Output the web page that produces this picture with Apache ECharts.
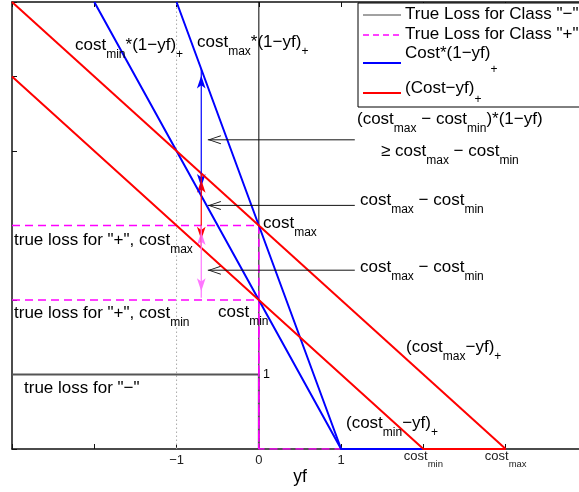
<!DOCTYPE html>
<html><head><meta charset="utf-8">
<script src="https://cdn.jsdelivr.net/npm/echarts@6/dist/echarts.min.js"></script>
<style>html,body{margin:0;padding:0;background:#fff;overflow:hidden}#c{width:600px;height:492px}</style>
</head><body><div id="c"></div>
<script>
// ---- data ----
const xTicks = [-1, 0, 1, 2, 3];
const xTickLabels = ['−1', '0', '1', 'cost_{min}', 'cost_{max}'];
const trueLossNeg = [[-3, 1], [0, 1], [0, 0], [3, 0]];
const trueLossPosMax = [[-3, 3], [0, 3], [0, 0], [3, 0]];
const trueLossPosMin = [[-3, 2], [0, 2], [0, 0]];
const hingeCostMax = [[-1, 6], [1, 0], [3, 0]];
const hingeCostMin = [[-2, 6], [1, 0], [3, 0]];
const shiftCostMax = [[-3, 6], [3, 0]];
const shiftCostMin = [[-3, 5], [2, 0], [3, 0]];
const zeroLine = [[0, 0], [0, 6]];
const guideLine = [[-1, 0], [-1, 6]];
const arrowX = -0.7;
const blueArrowY = [3.43, 5.1];   // [bottom tip, top tip]
const redArrowY = [2.72, 3.7];
const pinkArrowY = [2.03, 3.0];
const pointerY = [4.15, 3.27, 2.4];
const pointerFromX = 1.166;
const pointerToX = -0.62;
const legendLabels = ['True Loss for Class "−"', 'True Loss for Class "+"', 'Cost*(1−yf)_{+}', '(Cost−yf)_{+}'];

// ---- helpers ----
const FF = '"Liberation Sans", Arial, Helvetica, sans-serif';
function rich(str, m, s) {
  return str.split(/(_\{[^}]*\})/).filter(t => t).map(t =>
    t.startsWith('_{') ? '{' + s + '|' + t.slice(2, -1) + '}' : '{' + m + '|' + t + '}').join('');
}
const annRich = {
  m: {fontSize: 17, fontFamily: FF, color: '#000', verticalAlign: 'top'},
  s: {fontSize: 12, fontFamily: FF, color: '#000', verticalAlign: 'top', padding: [12, 0, 0, 0]}
};
const annotations = [
  {t: 'cost_{min}*(1−yf)_{+}', x: 75, y: 45},
  {t: 'cost_{max}*(1−yf)_{+}', x: 197, y: 42},
  {t: '(cost_{max} − cost_{min})*(1−yf)', x: 357, y: 119},
  {t: '≥ cost_{max} − cost_{min}', x: 381, y: 151},
  {t: 'cost_{max} − cost_{min}', x: 360, y: 200},
  {t: 'cost_{max} − cost_{min}', x: 360, y: 267},
  {t: 'cost_{max}', x: 263, y: 223},
  {t: 'true loss for "+", cost_{max}', x: 14, y: 240},
  {t: 'true loss for "+", cost_{min}', x: 14, y: 313},
  {t: 'cost_{min}', x: 218, y: 312},
  {t: 'true loss for "−"', x: 24, y: 388},
  {t: '(cost_{max}−yf)_{+}', x: 406, y: 347},
  {t: '(cost_{min}−yf)_{+}', x: 346, y: 423}
];
const graphics = [];
annotations.forEach(a => graphics.push({
  type: 'text', x: a.x, y: a.y - 8.5, silent: true, z: 50,
  style: {text: rich(a.t, 'm', 's'), rich: annRich, verticalAlign: 'top', align: 'left'}
}));
graphics.push({type: 'text', x: 263, y: 375 - 6.5, silent: true, z: 50,
  style: {text: '1', font: '12.5px ' + FF, fill: '#000', verticalAlign: 'top', align: 'left'}});
graphics.push({type: 'text', x: 300, y: 477, silent: true, z: 50,
  style: {text: 'yf', font: '17.5px ' + FF, fill: '#000', verticalAlign: 'middle', align: 'center'}});
// legend
graphics.push({type: 'rect', z: 60, silent: true, shape: {x: 358, y: 3, width: 260, height: 104},
  style: {fill: '#fff', stroke: '#000', lineWidth: 1}});
const legRows = [
  {ly: 15, ty: 14, color: '#444', dash: null, w: 1, sub: 14},
  {ly: 35, ty: 34, color: '#ff00ff', dash: [6, 4], w: 1.5, sub: 14},
  {ly: 63, ty: 53, color: '#0000ff', dash: null, w: 2, sub: 19},
  {ly: 93, ty: 88, color: '#ff0000', dash: null, w: 2, sub: 14}
];
legRows.forEach((r, i) => {
  const legRich = {
    m: {fontSize: 17, fontFamily: FF, color: '#000', verticalAlign: 'top'},
    s: {fontSize: 12, fontFamily: FF, color: '#000', verticalAlign: 'top', padding: [r.sub, 0, 0, 0]}
  };
  graphics.push({type: 'line', z: 61, silent: true, shape: {x1: 363, y1: r.ly, x2: 401, y2: r.ly},
    style: {stroke: r.color, lineWidth: r.w, lineDash: r.dash}});
  graphics.push({type: 'text', z: 61, silent: true, x: 405, y: r.ty - 8.5,
    style: {text: rich(legendLabels[i], 'm', 's'), rich: legRich, verticalAlign: 'top', align: 'left'}});
});

function lineSeries(data, color, width, type, z) {
  return {type: 'line', data: data, showSymbol: false, symbol: 'none', silent: true, z: z || 2,
    lineStyle: {color: color, width: width, type: type || 'solid'}, itemStyle: {color: color}, animation: false};
}
const chevron = 'path://M5,0 L10,14 L8.9,14 L5,2.4 L1.1,14 L0,14 Z';
// double-headed vertical arrow: shaft is a line series, heads are markPoints (tip on the value)
function vArrow(y, color, z) {
  const s = lineSeries([[arrowX, y[0]], [arrowX, y[1]]], color, 1.2, 'solid', z);
  const h = 13;
  s.markPoint = {silent: true, animation: false, label: {show: false}, itemStyle: {color: color},
    data: [
      {coord: [arrowX, y[1]], symbol: 'arrow', symbolSize: [6.5, h], symbolRotate: 0, symbolOffset: [0, h / 2]},
      {coord: [arrowX, y[0]], symbol: 'arrow', symbolSize: [6.5, h], symbolRotate: 180, symbolOffset: [0, -h / 2]}
    ]};
  return s;
}
function pointer(y) {
  const s = lineSeries([[pointerFromX, y], [pointerToX, y]], '#111', 1, 'solid', 10);
  s.markPoint = {silent: true, animation: false, label: {show: false}, itemStyle: {color: '#111'},
    data: [{coord: [pointerToX, y], symbol: chevron, symbolSize: [9, 13], symbolRotate: 90,
            symbolKeepAspect: false, symbolOffset: [6.5, 0]}]};
  return s;
}
const series = [
  lineSeries(guideLine, '#aaaaaa', 1, [1.5, 2.5], 1),
  lineSeries(zeroLine, '#000', 1, 'solid', 2),
  lineSeries(trueLossNeg, '#555', 2, 'solid', 3),
  lineSeries(trueLossPosMax, '#ff00ff', 1.5, [8, 5], 4),
  lineSeries(trueLossPosMin, '#ff00ff', 1.5, [8, 5], 4),
  lineSeries(hingeCostMax, '#0000ff', 2, 'solid', 5),
  lineSeries(hingeCostMin, '#0000ff', 2, 'solid', 5),
  lineSeries(shiftCostMax, '#ff0000', 2, 'solid', 6),
  lineSeries(shiftCostMin, '#ff0000', 2, 'solid', 6),
  vArrow(blueArrowY, '#0000ff', 7),
  vArrow(redArrowY, '#ff0000', 8),
  vArrow(pinkArrowY, '#ff77ff', 9)
].concat(pointerY.map(pointer));

const chart = echarts.init(document.getElementById('c'), null, {renderer: 'canvas'});
chart.setOption({
  animation: false,
  backgroundColor: '#fff',
  grid: {left: 12, right: 12, top: 2, bottom: 43, containLabel: false},
  xAxis: [{
    type: 'value', min: -3, max: 4, interval: 1, position: 'bottom',
    axisLine: {show: true, onZero: false, lineStyle: {color: '#111', width: 1.5}},
    axisTick: {show: true, inside: true, length: 5, lineStyle: {color: '#111', width: 1}},
    splitLine: {show: false},
    axisLabel: {
      margin: 1, color: '#222',
      formatter: v => { const i = xTicks.indexOf(v); if (i < 0) return ''; const s = xTickLabels[i];
        return s.indexOf('_{') >= 0 ? rich(s, 'c', 's') : '{p|' + s + '}'; },
      rich: {
        p: {fontSize: 13, fontFamily: FF, color: '#222', verticalAlign: 'top', padding: [4, 0, 0, 0]},
        c: {fontSize: 13, fontFamily: FF, color: '#222', verticalAlign: 'top'},
        s: {fontSize: 9.5, fontFamily: FF, color: '#222', verticalAlign: 'top', padding: [9, 0, 0, 0]}
      }
    }
  }, {
    type: 'value', min: -3, max: 4, interval: 1, position: 'top',
    axisLine: {show: true, onZero: false, lineStyle: {color: '#111', width: 1.5}},
    axisTick: {show: true, inside: true, length: 5, lineStyle: {color: '#111', width: 1}},
    splitLine: {show: false}, axisLabel: {show: false}
  }],
  yAxis: [{
    type: 'value', min: 0, max: 6, interval: 1, position: 'left',
    axisLine: {show: true, onZero: false, lineStyle: {color: '#111', width: 1.5}},
    axisTick: {show: true, inside: true, length: 5, lineStyle: {color: '#111', width: 1}},
    splitLine: {show: false}, axisLabel: {show: false}
  }],
  series: series,
  graphic: graphics
});
</script></body></html>
